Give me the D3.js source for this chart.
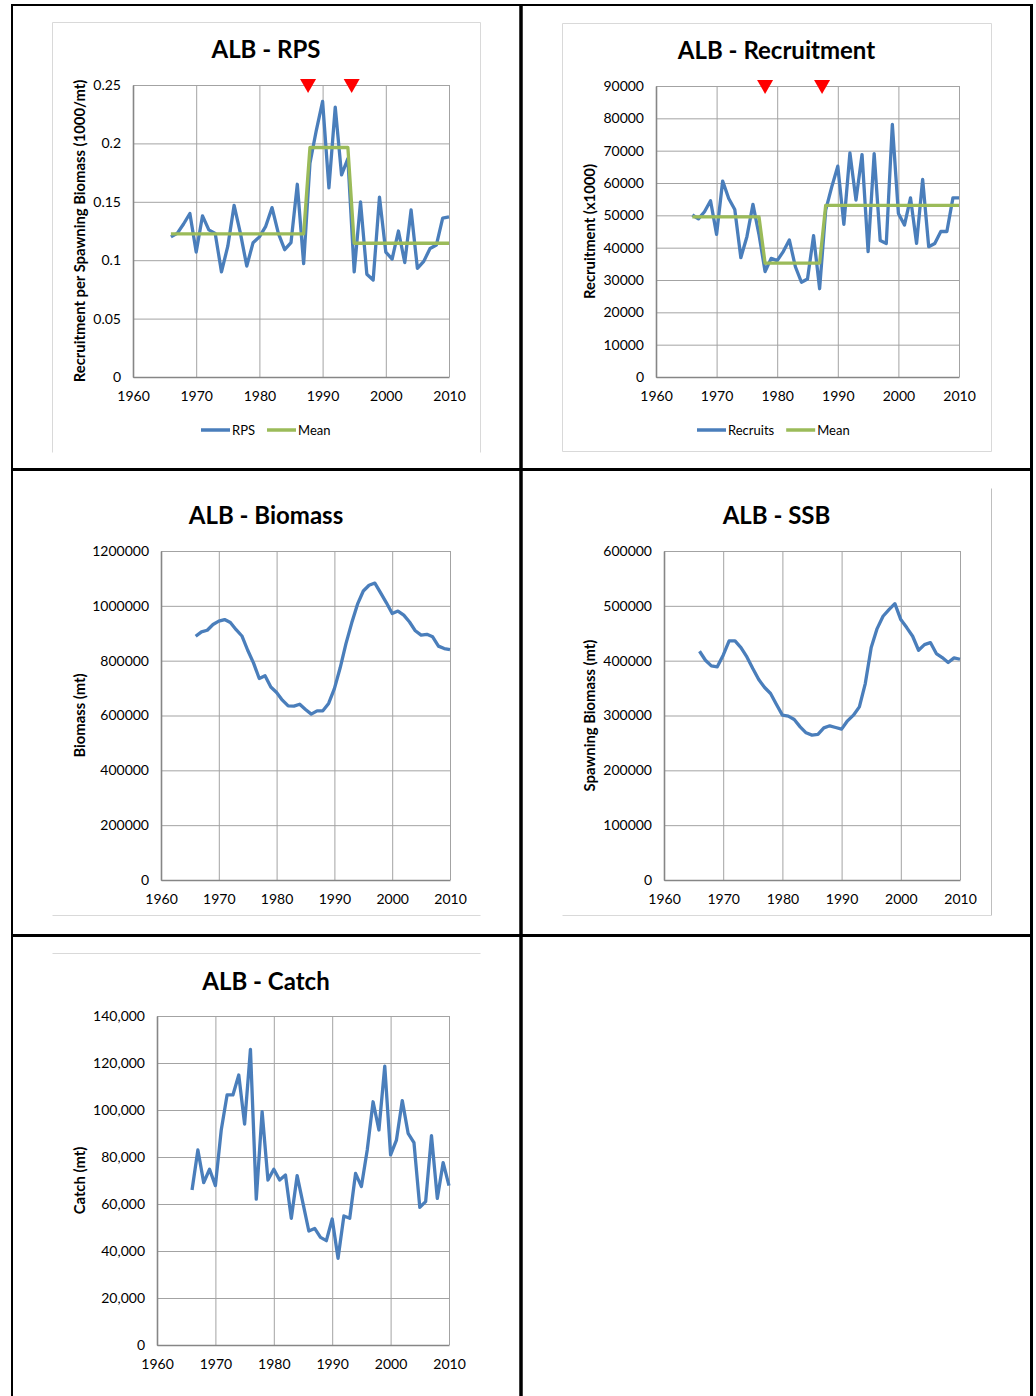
<!DOCTYPE html>
<html>
<head>
<meta charset="utf-8">
<script src="https://cdn.jsdelivr.net/npm/d3@7/dist/d3.min.js"></script>
<style>
    body { margin: 0; background: #fff; }
    svg text { font-family: Lato, "Open Sans", sans-serif; fill: #000; }
</style>
</head>
<body>
<svg id="page" width="1036" height="1396"></svg>
<script>
// ---- data ----
var years = [1966, 1967, 1968, 1969, 1970, 1971, 1972, 1973, 1974, 1975,
    1976, 1977, 1978, 1979, 1980, 1981, 1982, 1983, 1984, 1985,
    1986, 1987, 1988, 1989, 1990, 1991, 1992, 1993, 1994, 1995,
    1996, 1997, 1998, 1999, 2000, 2001, 2002, 2003, 2004, 2005,
    2006, 2007, 2008, 2009, 2010];

var rps = [0.120, 0.123, 0.131, 0.140, 0.107, 0.138, 0.126, 0.123, 0.090, 0.112,
    0.147, 0.123, 0.095, 0.115, 0.120, 0.129, 0.145, 0.123, 0.109, 0.115,
    0.165, 0.097, 0.183, 0.211, 0.236, 0.162, 0.231, 0.173, 0.187, 0.090,
    0.150, 0.088, 0.083, 0.154, 0.107, 0.101, 0.125, 0.098, 0.143, 0.093,
    0.099, 0.110, 0.113, 0.136, 0.137];

var rpsMean = [0.1225, 0.1225, 0.1225, 0.1225, 0.1225, 0.1225, 0.1225, 0.1225, 0.1225, 0.1225,
    0.1225, 0.1225, 0.1225, 0.1225, 0.1225, 0.1225, 0.1225, 0.1225, 0.1225, 0.1225,
    0.1225, 0.1225, 0.1965, 0.1965, 0.1965, 0.1965, 0.1965, 0.1965, 0.1965, 0.1145,
    0.1145, 0.1145, 0.1145, 0.1145, 0.1145, 0.1145, 0.1145, 0.1145, 0.1145, 0.1145,
    0.1145, 0.1145, 0.1145, 0.1145, 0.1145];

var recruits = [50100, 48900, 51100, 54500, 44100, 60600, 55200, 51800, 36900, 43400,
    53400, 44000, 32600, 36700, 36000, 38800, 42400, 34100, 29300, 30300,
    43700, 27300, 51600, 58800, 65200, 47200, 69300, 54700, 68800, 38800,
    69100, 42200, 41300, 78100, 50600, 47000, 55400, 41300, 61100, 40300,
    41300, 45000, 45000, 55400, 55400];

var recMean = [49500, 49500, 49500, 49500, 49500, 49500, 49500, 49500, 49500, 49500,
    49500, 49500, 35200, 35200, 35200, 35200, 35200, 35200, 35200, 35200,
    35200, 35200, 53100, 53100, 53100, 53100, 53100, 53100, 53100, 53100,
    53100, 53100, 53100, 53100, 53100, 53100, 53100, 53100, 53100, 53100,
    53100, 53100, 53100, 53100, 53100];

var biomass = [889000, 905000, 911000, 932000, 944000, 950000, 939000, 913000, 890000, 838000,
    792000, 735000, 745000, 704000, 684000, 656000, 635000, 634000, 641000, 622000,
    605000, 617000, 617000, 644000, 698000, 774000, 862000, 938000, 1006000, 1054000,
    1075000, 1083000, 1047000, 1011000, 972000, 981000, 966000, 941000, 909000, 893000,
    896000, 887000, 853000, 844000, 840000];

var ssb = [417200, 400800, 390500, 388700, 409900, 436000, 436000, 423900, 406900, 385600,
    365600, 351000, 340100, 320000, 300600, 298800, 292700, 279300, 268400, 264200,
    265400, 277500, 281200, 278100, 275100, 290300, 300600, 315800, 358300, 423900,
    458500, 481000, 493100, 504000, 474900, 460300, 444500, 419000, 429300, 433000,
    413000, 405600, 396600, 405100, 402600];

var catches = [66000, 83000, 69100, 74800, 67800, 91500, 106400, 106400, 114900, 94000,
    125800, 62100, 99300, 70200, 74800, 70200, 72300, 53900, 72100, 60300,
    48500, 49600, 45800, 44400, 53600, 36900, 54900, 53900, 73000, 67400,
    83000, 103500, 91500, 118700, 80900, 87200, 104000, 90100, 86100, 58600,
    61000, 89100, 62400, 77600, 67800];

// regime shift markers (year positions of the red triangles)
var rpsBreaks = [1987.7, 1994.6];
var recBreaks = [1978.0, 1987.4];

var yearTicks = [1960, 1970, 1980, 1990, 2000, 2010];
var rpsTicks = [0, 0.05, 0.1, 0.15, 0.2, 0.25];
var recTicks = [0, 10000, 20000, 30000, 40000, 50000, 60000, 70000, 80000, 90000];
var biomassTicks = [0, 200000, 400000, 600000, 800000, 1000000, 1200000];
var ssbTicks = [0, 100000, 200000, 300000, 400000, 500000, 600000];
var catchTicks = [0, 20000, 40000, 60000, 80000, 100000, 120000, 140000];

// ---- drawing ----
var BLUE = "#4a7ebb", GREEN = "#9bbb59";
var svg = d3.select("#page");

// table grid
var grid = svg.append("g").attr("stroke", "#000").attr("fill", "none");
grid.append("line").attr("x1", 11).attr("x2", 1033).attr("y1", 5).attr("y2", 5).attr("stroke-width", 2);
grid.append("line").attr("x1", 12).attr("x2", 12).attr("y1", 4).attr("y2", 1396).attr("stroke-width", 2);
grid.append("line").attr("x1", 521).attr("x2", 521).attr("y1", 4).attr("y2", 1396).attr("stroke-width", 3.5);
grid.append("line").attr("x1", 1031.5).attr("x2", 1031.5).attr("y1", 4).attr("y2", 1396).attr("stroke-width", 3);
grid.append("line").attr("x1", 11).attr("x2", 1033).attr("y1", 469.5).attr("y2", 469.5).attr("stroke-width", 3);
grid.append("line").attr("x1", 11).attr("x2", 1033).attr("y1", 935.5).attr("y2", 935.5).attr("stroke-width", 3);

var panels = [
    {title: "ALB - RPS", ylabel: "Recruitment per Spawning Biomass (1000/mt)",
     series: [{name: "RPS", values: rps, color: BLUE}, {name: "Mean", values: rpsMean, color: GREEN}],
     ticks: rpsTicks, fmt: function (d) { return String(d); }, breaks: rpsBreaks,
     frame: [52, 22, 480, 452], sides: "tlr", plot: [133, 85, 449, 377], titleY: 50, ylabelX: 85, legend: [201, 430]},
    {title: "ALB - Recruitment", ylabel: "Recruitment (x1000)",
     series: [{name: "Recruits", values: recruits, color: BLUE}, {name: "Mean", values: recMean, color: GREEN}],
     ticks: recTicks, fmt: function (d) { return String(d); }, breaks: recBreaks,
     frame: [562, 23, 991, 451], sides: "tlrb", plot: [656, 86, 959, 377], titleY: 51, ylabelX: 595, legend: [697, 430]},
    {title: "ALB - Biomass", ylabel: "Biomass (mt)",
     series: [{name: "Biomass", values: biomass, color: BLUE}],
     ticks: biomassTicks, fmt: function (d) { return String(d); }, breaks: [],
     frame: [52, 488, 480, 915], sides: "b", plot: [161, 551, 450, 880], titleY: 516, ylabelX: 85, legend: null},
    {title: "ALB - SSB", ylabel: "Spawning Biomass (mt)",
     series: [{name: "SSB", values: ssb, color: BLUE}],
     ticks: ssbTicks, fmt: function (d) { return String(d); }, breaks: [],
     frame: [562, 488, 991, 915], sides: "rb", plot: [664, 551, 960, 880], titleY: 516, ylabelX: 595, legend: null},
    {title: "ALB - Catch", ylabel: "Catch (mt)",
     series: [{name: "Catch", values: catches, color: BLUE}],
     ticks: catchTicks, fmt: d3.format(","), breaks: [],
     frame: [52, 953, 480, 1400], sides: "t", plot: [157, 1016, 449, 1345], titleY: 982, ylabelX: 85, legend: null}
];

panels.forEach(function (p) {
    var g = svg.append("g");
    var f = p.frame;

    // faint chart-area border, only the sides that show in the original
    var edges = {
        t: [f[0], f[1], f[2], f[1]], b: [f[0], f[3], f[2], f[3]],
        l: [f[0], f[1], f[0], f[3]], r: [f[2], f[1], f[2], f[3]]
    };
    p.sides.split("").forEach(function (k) {
        var e = edges[k];
        g.append("line")
            .attr("x1", e[0] + 0.5).attr("y1", e[1] + 0.5)
            .attr("x2", e[2] + 0.5).attr("y2", e[3] + 0.5)
            .attr("stroke", k == "r" && p.sides == "rb" ? "#bfbfbf" : "#d9d9d9");
    });

    var x = d3.scaleLinear().domain([1960, 2010]).range([p.plot[0], p.plot[2]]);
    var y = d3.scaleLinear().domain([0, d3.max(p.ticks)]).range([p.plot[3], p.plot[1]]);

    // gridlines
    g.append("g")
        .attr("transform", "translate(" + p.plot[0] + ",0)")
        .call(d3.axisLeft(y).tickValues(p.ticks).tickSize(-(p.plot[2] - p.plot[0])).tickFormat(""))
        .call(function (s) { s.select(".domain").remove(); })
        .selectAll("line").attr("stroke", "#a3a3a3");
    g.append("g")
        .attr("transform", "translate(0," + p.plot[3] + ")")
        .call(d3.axisBottom(x).tickValues(yearTicks).tickSize(-(p.plot[3] - p.plot[1])).tickFormat(""))
        .call(function (s) { s.select(".domain").remove(); })
        .selectAll("line").attr("stroke", "#a3a3a3");

    // axis lines and labels
    var ya = g.append("g")
        .attr("transform", "translate(" + p.plot[0] + ",0)")
        .call(d3.axisLeft(y).tickValues(p.ticks).tickSize(0).tickPadding(12).tickFormat(p.fmt));
    ya.select(".domain").attr("stroke", "#868686").attr("stroke-width", 1.6);
    ya.selectAll("text").style("font-size", "14px").attr("fill", "#000");

    var xa = g.append("g")
        .attr("transform", "translate(0," + p.plot[3] + ")")
        .call(d3.axisBottom(x).tickValues(yearTicks).tickSize(0).tickPadding(14).tickFormat(d3.format("d")));
    xa.select(".domain").attr("stroke", "#868686").attr("stroke-width", 1.6);
    xa.selectAll("text").style("font-size", "14px").attr("fill", "#000");

    // series
    p.series.forEach(function (s) {
        var line = d3.line()
            .x(function (d, i) { return x(years[i]); })
            .y(function (d) { return y(d); });
        g.append("path")
            .datum(s.values)
            .attr("d", line)
            .attr("fill", "none")
            .attr("stroke", s.color)
            .attr("stroke-width", 3.3)
            .attr("stroke-linejoin", "round");
    });

    // red triangles marking shifts
    g.selectAll(".mark")
        .data(p.breaks)
        .enter().append("path")
        .attr("class", "mark")
        .attr("d", function (d) {
            var cx = x(d), top = p.plot[1] - 6;
            return "M" + (cx - 8) + "," + top + "L" + (cx + 8) + "," + top + "L" + cx + "," + (top + 14) + "Z";
        })
        .attr("fill", "#ff0000");

    // title
    g.append("text")
        .attr("x", (f[0] + f[2]) / 2)
        .attr("y", p.titleY)
        .attr("dy", "0.35em")
        .attr("text-anchor", "middle")
        .style("font-size", "24px")
        .style("font-weight", "bold")
        .text(p.title);

    // y axis title
    g.append("text")
        .attr("transform", "translate(" + p.ylabelX + "," + ((p.plot[1] + p.plot[3]) / 2) + ") rotate(-90)")
        .attr("text-anchor", "middle")
        .style("font-size", "14.8px")
        .style("font-weight", "bold")
        .text(p.ylabel);

    // legend
    if (p.legend) {
        var lx = p.legend[0];
        p.series.forEach(function (s) {
            g.append("line")
                .attr("x1", lx).attr("x2", lx + 29)
                .attr("y1", p.legend[1]).attr("y2", p.legend[1])
                .attr("stroke", s.color).attr("stroke-width", 3.5);
            var t = g.append("text")
                .attr("x", lx + 31)
                .attr("y", p.legend[1])
                .attr("dy", "0.35em")
                .style("font-size", "13px")
                .text(s.name);
            lx += 31 + t.node().getComputedTextLength() + 12;
        });
    }
});
</script>
</body>
</html>
